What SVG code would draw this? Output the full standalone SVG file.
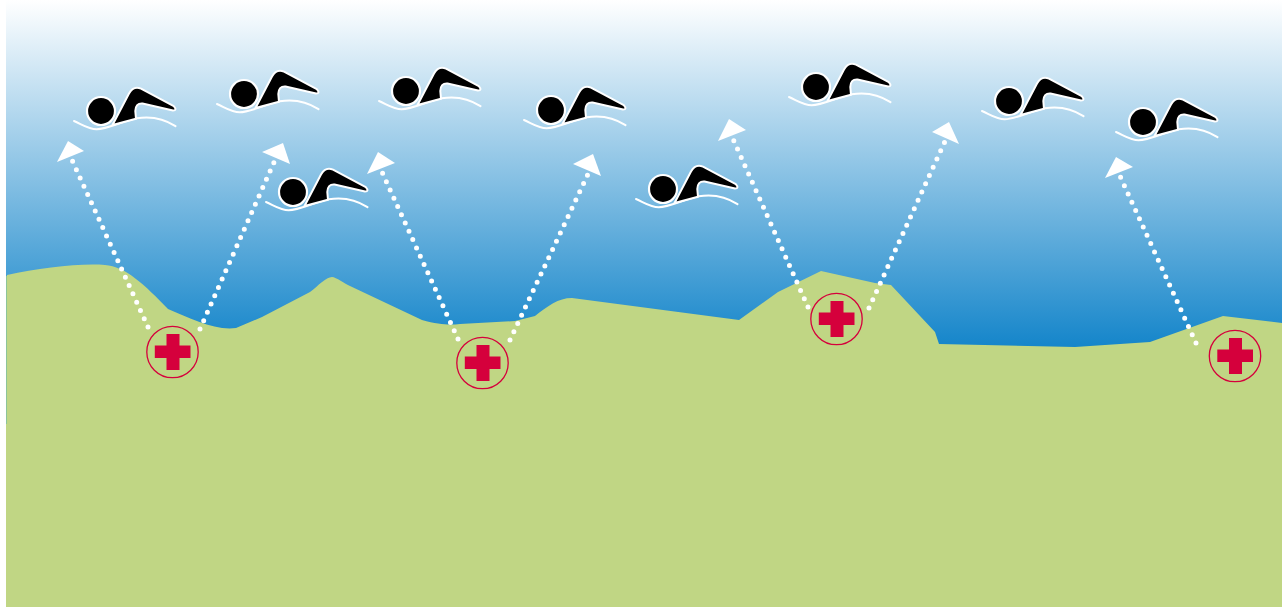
<svg xmlns="http://www.w3.org/2000/svg" width="1282" height="607" viewBox="0 0 1282 607">
<defs>
<linearGradient id="sky" x1="0" y1="0" x2="0" y2="1"><stop offset="0" stop-color="#ffffff"/><stop offset="0.82" stop-color="#1485ca"/><stop offset="1" stop-color="#1485ca"/></linearGradient>
<g id="swimmer">
<path d="M-27 10C-18 14-12 18.300-4.300 18.300C6 18.300 22 10 35.700 7.300C50 5 62 7 74.500 15.200" fill="none" stroke="#fff" stroke-width="2" stroke-linecap="round"/>
<path d="M11.500 14L28-17.500Q32.500-25.500 40-22.300L72.800-4.800Q76.500-.5 72-.5L41.500-7.500Q34.500-8 34.300 0L35 7.800Z" fill="#000" stroke="#fff" stroke-width="2" stroke-linejoin="round"/>
<circle r="14" fill="#000" stroke="#fff" stroke-width="2.200"/>
</g>
<g id="aid">
<circle r="25.700" fill="none" stroke="#d5003c" stroke-width="1.300"/>
<path d="M-6-18H7V-6.500H18V6H7V18H-6V6H-17.700V-6.500H-6Z" fill="#d5003c"/>
</g>
</defs>
<style>.dots{fill:none;stroke:#fff;stroke-width:5;stroke-linecap:round;stroke-dasharray:0 9.100}.head{fill:#fff}</style>
<rect x="6" y="0" width="1276" height="424" fill="url(#sky)"/>
<path d="M6.500 276V424" stroke="#8cc49a" stroke-width="1" fill="none"/>
<path id="ground" d="M7 275C40 268 80 263 105 265C125 266 145 285 168 309C190 318 215 331 236 328L262 317L310 292C318 286 326 277 332 277C336 277 345 284 350 286L422 320C440 325 450 325 460 324L515 321L535 316C548 306 558 298 572 298L739 320L778 292L821 271L875 283L891 285L935 332L939 344L1075 347L1150 342L1223 316L1282 323V607H6V424H7Z" fill="#c0d684"/>
<g id="connectors">
<path class="dots" d="M148 327L72 160"/><path class="head" d="M68 141L57 162L84 151Z"/>
<path class="dots" d="M200 329L275 160"/><path class="head" d="M283 143L262 152L290 164Z"/>
<path class="dots" d="M458 339L382 172"/><path class="head" d="M378 152L367 174L395 163Z"/>
<path class="dots" d="M510 340L589 172"/><path class="head" d="M593 154L573 164L601 176Z"/>
<path class="dots" d="M808 307L733 139"/><path class="head" d="M729 119L718 141L746 130Z"/>
<path class="dots" d="M869 308L946 139"/><path class="head" d="M949 122L932 132L959 144Z"/>
<path class="dots" d="M1196 343L1120 176"/><path class="head" d="M1116 157L1105 178L1133 167Z"/>
</g>
<g id="swimmer1"><use href="#swimmer" x="101" y="111"/></g>
<g id="swimmer2"><use href="#swimmer" x="244" y="94"/></g>
<g id="swimmer3"><use href="#swimmer" x="293" y="192"/></g>
<g id="swimmer4"><use href="#swimmer" x="406" y="91"/></g>
<g id="swimmer5"><use href="#swimmer" x="551" y="110"/></g>
<g id="swimmer6"><use href="#swimmer" x="663" y="189"/></g>
<g id="swimmer7"><use href="#swimmer" x="816" y="87"/></g>
<g id="swimmer8"><use href="#swimmer" x="1009" y="101"/></g>
<g id="swimmer9"><use href="#swimmer" x="1143" y="122"/></g>
<g id="aid1"><use href="#aid" x="172.500" y="352"/></g>
<g id="aid2"><use href="#aid" x="482.500" y="363"/></g>
<g id="aid3"><use href="#aid" x="836.500" y="319"/></g>
<g id="aid4"><use href="#aid" x="1235" y="356"/></g>
</svg>
